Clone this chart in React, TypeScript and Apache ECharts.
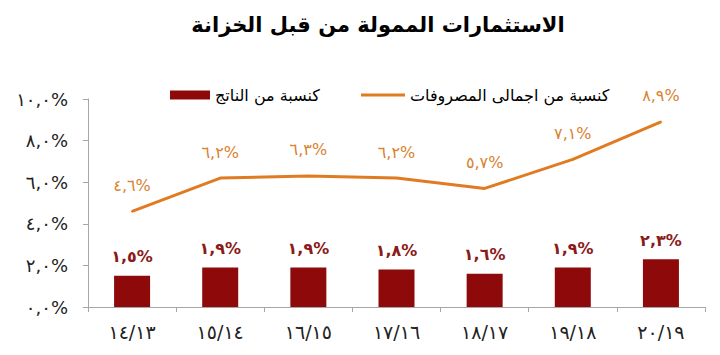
import React, { useEffect, useRef } from "react";
import * as echarts from "echarts";

const title = "الاستثمارات الممولة من قبل الخزانة";
const categories = ["١٤/١٣", "١٥/١٤", "١٦/١٥", "١٧/١٦", "١٨/١٧", "١٩/١٨", "٢٠/١٩"];
const barName = "كنسبة من الناتج";
const lineName = "كنسبة من اجمالى المصروفات";
const barValues = [1.5, 1.9, 1.9, 1.8, 1.6, 1.9, 2.3];
const lineValues = [4.6, 6.2, 6.3, 6.2, 5.7, 7.1, 8.9];
const barLabels = ["١,٥%", "١,٩%", "١,٩%", "١,٨%", "١,٦%", "١,٩%", "٢,٣%"];
const lineLabels = ["٤,٦%", "٦,٢%", "٦,٣%", "٦,٢%", "٥,٧%", "٧,١%", "٨,٩%"];
const yTickLabels: Record<number, string> = {
  0: "٠,٠%",
  2: "٢,٠%",
  4: "٤,٠%",
  6: "٦,٠%",
  8: "٨,٠%",
  10: "١٠,٠%",
};

const FONT = "'DejaVu Sans', 'Liberation Sans', Arial, sans-serif";
const BAR_COLOR = "#8E0A0A";
const LINE_COLOR = "#E07B22";

export default function App() {
  const ref = useRef<HTMLDivElement>(null);
  useEffect(() => {
    if (!ref.current) return;
    const chart = echarts.init(ref.current, null, { renderer: "svg" });
    chart.setOption({
      animation: false,
      backgroundColor: "#ffffff",
      title: {
        text: title,
        left: 373,
        textAlign: "center",
        top: 9,
        textStyle: { fontFamily: FONT, fontSize: 21, fontWeight: "bold", color: "#000" },
      },
      legend: [
        {
          left: 165,
          top: 82,
          itemWidth: 40,
          itemHeight: 9,
          textStyle: { fontFamily: FONT, fontSize: 16, color: "#000" },
          data: [{ name: barName, icon: "rect" }],
        },
        {
          left: 356,
          top: 82,
          itemWidth: 44,
          itemHeight: 3,
          textStyle: { fontFamily: FONT, fontSize: 16, color: "#000" },
          data: [{ name: lineName, icon: "rect", itemStyle: { color: LINE_COLOR, opacity: 1 } }],
        },
      ],
      grid: { left: 88, right: 15, top: 99, bottom: 48, containLabel: false },
      xAxis: {
        type: "category",
        data: categories,
        axisLine: { lineStyle: { color: "#a6a6a6", width: 1 } },
        axisTick: { show: true, length: 5, alignWithLabel: false, lineStyle: { color: "#a6a6a6" } },
        axisLabel: { fontFamily: FONT, fontSize: 19, color: "#222", margin: 15 },
      },
      yAxis: {
        type: "value",
        min: 0,
        max: 10,
        interval: 2,
        splitLine: { show: false },
        axisLine: { show: true, lineStyle: { color: "#a6a6a6", width: 1 } },
        axisTick: { show: true, length: 5, lineStyle: { color: "#a6a6a6" } },
        axisLabel: {
          fontFamily: FONT,
          fontSize: 18,
          color: "#222",
          margin: 20,
          formatter: (v: number) => yTickLabels[v] ?? "",
        },
      },
      series: [
        {
          name: barName,
          type: "bar",
          data: barValues,
          barWidth: 36,
          itemStyle: { color: BAR_COLOR },
          label: {
            show: true,
            position: "top",
            distance: 11,
            fontFamily: FONT,
            fontSize: 16,
            fontWeight: "bold",
            color: "#8B1A1A",
            formatter: (p: any) => barLabels[p.dataIndex],
          },
        },
        {
          name: lineName,
          type: "line",
          data: lineValues,
          symbol: "circle",
          symbolSize: 2,
          showSymbol: true,
          lineStyle: { color: LINE_COLOR, width: 3 },
          itemStyle: { color: LINE_COLOR },
          label: {
            show: true,
            position: "top",
            distance: 17,
            fontFamily: FONT,
            fontSize: 16,
            color: "#D9822E",
            formatter: (p: any) => lineLabels[p.dataIndex],
          },
        },
      ],
    });
    return () => chart.dispose();
  }, []);
  return <div ref={ref} style={{ width: 720, height: 355, margin: -8 }} />;
}
